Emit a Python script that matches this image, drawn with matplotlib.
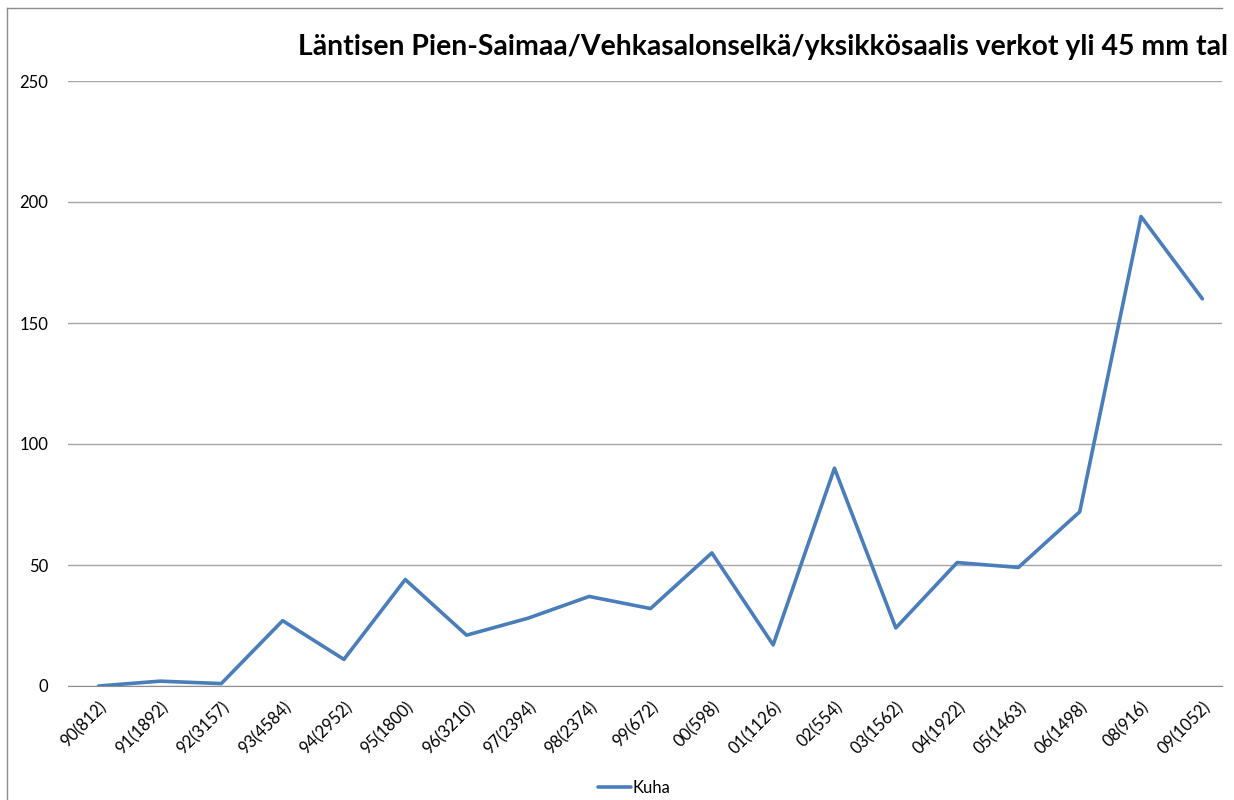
import matplotlib.pyplot as plt
from matplotlib.lines import Line2D

plt.rcParams['font.family'] = ['Lato', 'DejaVu Sans']

# data
labels = ["90(812)", "91(1892)", "92(3157)", "93(4584)", "94(2952)", "95(1800)",
          "96(3210)", "97(2394)", "98(2374)", "99(672)", "00(598)", "01(1126)",
          "02(554)", "03(1562)", "04(1922)", "05(1463)", "06(1498)", "08(916)",
          "09(1052)"]
kuha = [0, 2, 1, 27, 11, 44, 21, 28, 37, 32, 55, 17, 90, 24, 51, 49, 72, 194, 160]
title = "Läntisen Pien-Saimaa/Vehkasalonselkä/yksikkösaalis verkot yli 45 mm tal"

W, H = 1234, 800
fig = plt.figure(figsize=(W / 100, H / 100), dpi=100)

# plot area in pixels
left, right, top, bottom = 68, 1222, 81, 686
ax = fig.add_axes([left / W, 1 - bottom / H, (right - left) / W, (bottom - top) / H])

x = list(range(len(labels)))
ax.plot(x, kuha, color='#4a7ebb', lw=2.6, solid_capstyle='round', label='Kuha')

ax.set_ylim(0, 250)
ax.set_yticks([0, 50, 100, 150, 200, 250])
ax.set_xlim(-0.5, 18.32)
ax.set_xticks(x)
ax.set_xticklabels(labels, rotation=45, ha='right', rotation_mode='anchor', fontsize=12)
ax.tick_params(axis='y', length=0, pad=14, labelsize=12)
ax.tick_params(axis='x', length=0, pad=9)
ax.yaxis.grid(True, color='#a6a6a6', lw=1)
ax.set_axisbelow(True)
for s in ['top', 'right', 'left']:
    ax.spines[s].set_visible(False)
ax.spines['bottom'].set_color('#8c8c8c')

fig.text(298 / W, 1 - 47 / H, title, fontsize=20.4, fontweight='bold', va='center', ha='left')

# outer chart border
fig.add_artist(Line2D([7 / W, 1222 / W], [1 - 8 / H, 1 - 8 / H], color='#8c8c8c', lw=1))
fig.add_artist(Line2D([7 / W, 7 / W], [1 - 8 / H, 0], color='#8c8c8c', lw=1))

fig.legend(loc='center', bbox_to_anchor=(634 / W, 1 - 788 / H), frameon=False,
           handlelength=2.0, handletextpad=0.1, fontsize=12, borderpad=0.2)

fig.savefig('out.png', dpi=100)
